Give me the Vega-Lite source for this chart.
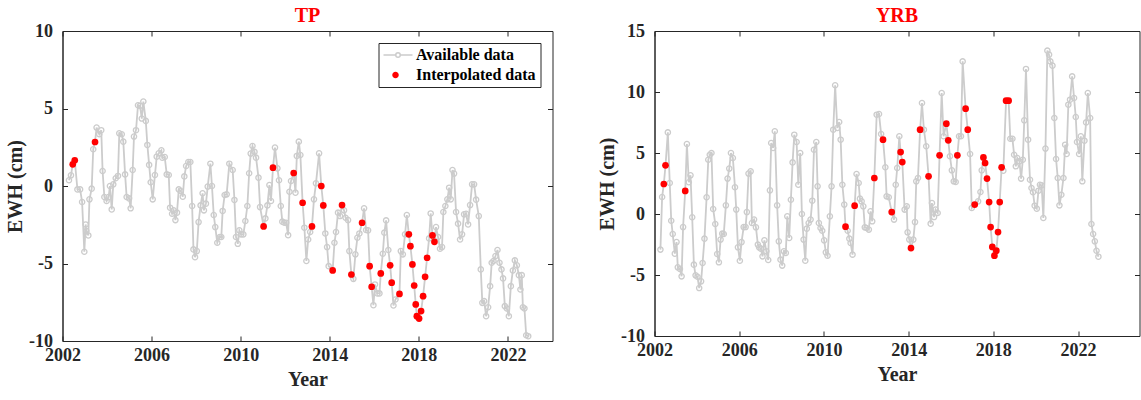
{
"$schema": "https://vega.github.io/schema/vega-lite/v6.json",
"background": "white",
"padding": {"left": 4.5, "top": 5, "right": 0, "bottom": 0},
"bounds": "flush",
"spacing": 102,
"resolve": {"legend": {"shape": "independent", "fill": "independent", "stroke": "independent"}},
"config": {
  "font": "Liberation Serif",
  "view": {"stroke": "#262626", "strokeWidth": 1},
  "axis": {"grid": false, "domainColor": "#262626", "tickColor": "#262626", "labelColor": "#262626", "titleColor": "#262626",
    "labelFont": "Liberation Serif", "titleFont": "Liberation Serif", "labelFontSize": 18, "labelFontWeight": "bold",
    "titleFontSize": 20, "titleFontWeight": "bold", "tickSize": -5, "domainWidth": 1, "tickWidth": 1, "labelOverlap": false},
  "legend": {"title": null, "orient": "top-right", "offset": 12, "strokeColor": "#262626", "fillColor": "white", "padding": 4,
    "labelFont": "Liberation Serif", "labelFontSize": 16, "labelFontWeight": "bold", "labelColor": "#000000",
    "symbolSize": 100, "labelOffset": 17.5, "rowPadding": 4, "symbolStrokeWidth": 1.5, "symbolOpacity": 1},
  "title": {"font": "Liberation Serif", "fontSize": 20, "fontWeight": "bold", "color": "#ff0000", "anchor": "middle", "offset": -4}
},
"datasets": {
"tp": [
{"year":2002.29,"ewh":0.37,"type":"Available data"},
{"year":2002.38,"ewh":0.69,"type":"Available data"},
{"year":2002.46,"ewh":1.40,"type":"Interpolated data"},
{"year":2002.55,"ewh":1.66,"type":"Interpolated data"},
{"year":2002.67,"ewh":-0.22,"type":"Available data"},
{"year":2002.79,"ewh":-0.22,"type":"Available data"},
{"year":2002.88,"ewh":-1.03,"type":"Available data"},
{"year":2002.98,"ewh":-4.24,"type":"Available data"},
{"year":2003.04,"ewh":-2.48,"type":"Available data"},
{"year":2003.07,"ewh":-2.91,"type":"Available data"},
{"year":2003.16,"ewh":-3.19,"type":"Available data"},
{"year":2003.21,"ewh":-0.86,"type":"Available data"},
{"year":2003.31,"ewh":-0.17,"type":"Available data"},
{"year":2003.38,"ewh":2.37,"type":"Available data"},
{"year":2003.46,"ewh":2.84,"type":"Interpolated data"},
{"year":2003.53,"ewh":3.77,"type":"Available data"},
{"year":2003.65,"ewh":3.34,"type":"Available data"},
{"year":2003.74,"ewh":3.60,"type":"Available data"},
{"year":2003.80,"ewh":0.97,"type":"Available data"},
{"year":2003.88,"ewh":-0.71,"type":"Available data"},
{"year":2003.98,"ewh":-0.97,"type":"Available data"},
{"year":2004.07,"ewh":-0.71,"type":"Available data"},
{"year":2004.13,"ewh":0.00,"type":"Available data"},
{"year":2004.21,"ewh":-1.51,"type":"Available data"},
{"year":2004.28,"ewh":0.11,"type":"Available data"},
{"year":2004.39,"ewh":0.50,"type":"Available data"},
{"year":2004.49,"ewh":0.65,"type":"Available data"},
{"year":2004.55,"ewh":3.40,"type":"Available data"},
{"year":2004.66,"ewh":3.34,"type":"Available data"},
{"year":2004.73,"ewh":2.86,"type":"Available data"},
{"year":2004.81,"ewh":0.75,"type":"Available data"},
{"year":2004.88,"ewh":-0.71,"type":"Available data"},
{"year":2004.99,"ewh":-0.80,"type":"Available data"},
{"year":2005.06,"ewh":-1.44,"type":"Available data"},
{"year":2005.15,"ewh":1.03,"type":"Available data"},
{"year":2005.21,"ewh":3.19,"type":"Available data"},
{"year":2005.30,"ewh":3.60,"type":"Available data"},
{"year":2005.39,"ewh":5.21,"type":"Available data"},
{"year":2005.48,"ewh":5.17,"type":"Available data"},
{"year":2005.56,"ewh":4.35,"type":"Available data"},
{"year":2005.63,"ewh":5.45,"type":"Available data"},
{"year":2005.74,"ewh":4.20,"type":"Available data"},
{"year":2005.81,"ewh":2.65,"type":"Available data"},
{"year":2005.89,"ewh":1.36,"type":"Available data"},
{"year":2005.96,"ewh":0.24,"type":"Available data"},
{"year":2006.05,"ewh":-0.86,"type":"Available data"},
{"year":2006.15,"ewh":0.71,"type":"Available data"},
{"year":2006.23,"ewh":1.89,"type":"Available data"},
{"year":2006.32,"ewh":2.11,"type":"Available data"},
{"year":2006.44,"ewh":2.30,"type":"Available data"},
{"year":2006.48,"ewh":1.83,"type":"Available data"},
{"year":2006.59,"ewh":1.87,"type":"Available data"},
{"year":2006.68,"ewh":0.75,"type":"Available data"},
{"year":2006.77,"ewh":0.71,"type":"Available data"},
{"year":2006.83,"ewh":-1.40,"type":"Available data"},
{"year":2006.92,"ewh":-1.79,"type":"Available data"},
{"year":2006.99,"ewh":-1.57,"type":"Available data"},
{"year":2007.07,"ewh":-2.20,"type":"Available data"},
{"year":2007.14,"ewh":-1.72,"type":"Available data"},
{"year":2007.22,"ewh":-0.22,"type":"Available data"},
{"year":2007.31,"ewh":-0.32,"type":"Available data"},
{"year":2007.40,"ewh":-0.69,"type":"Available data"},
{"year":2007.47,"ewh":0.62,"type":"Available data"},
{"year":2007.55,"ewh":1.29,"type":"Available data"},
{"year":2007.65,"ewh":1.55,"type":"Available data"},
{"year":2007.74,"ewh":1.55,"type":"Available data"},
{"year":2007.82,"ewh":-1.29,"type":"Available data"},
{"year":2007.88,"ewh":-4.09,"type":"Available data"},
{"year":2007.95,"ewh":-4.59,"type":"Available data"},
{"year":2008.03,"ewh":-4.20,"type":"Available data"},
{"year":2008.11,"ewh":-2.33,"type":"Available data"},
{"year":2008.20,"ewh":-1.25,"type":"Available data"},
{"year":2008.29,"ewh":-0.47,"type":"Available data"},
{"year":2008.35,"ewh":-1.57,"type":"Available data"},
{"year":2008.44,"ewh":-1.14,"type":"Available data"},
{"year":2008.52,"ewh":-0.04,"type":"Available data"},
{"year":2008.64,"ewh":1.44,"type":"Available data"},
{"year":2008.71,"ewh":0.00,"type":"Available data"},
{"year":2008.79,"ewh":-1.87,"type":"Available data"},
{"year":2008.86,"ewh":-2.65,"type":"Available data"},
{"year":2008.95,"ewh":-3.66,"type":"Available data"},
{"year":2009.06,"ewh":-3.29,"type":"Available data"},
{"year":2009.13,"ewh":-3.29,"type":"Available data"},
{"year":2009.19,"ewh":-1.61,"type":"Available data"},
{"year":2009.28,"ewh":-0.58,"type":"Available data"},
{"year":2009.37,"ewh":-0.54,"type":"Available data"},
{"year":2009.49,"ewh":1.44,"type":"Available data"},
{"year":2009.64,"ewh":1.03,"type":"Available data"},
{"year":2009.72,"ewh":-0.90,"type":"Available data"},
{"year":2009.79,"ewh":-3.29,"type":"Available data"},
{"year":2009.87,"ewh":-3.73,"type":"Available data"},
{"year":2009.94,"ewh":-2.86,"type":"Available data"},
{"year":2010.02,"ewh":-3.12,"type":"Available data"},
{"year":2010.12,"ewh":-3.12,"type":"Available data"},
{"year":2010.21,"ewh":-2.26,"type":"Available data"},
{"year":2010.30,"ewh":-1.29,"type":"Available data"},
{"year":2010.38,"ewh":0.82,"type":"Available data"},
{"year":2010.45,"ewh":2.09,"type":"Available data"},
{"year":2010.53,"ewh":2.58,"type":"Available data"},
{"year":2010.62,"ewh":2.20,"type":"Available data"},
{"year":2010.69,"ewh":1.83,"type":"Available data"},
{"year":2010.80,"ewh":0.54,"type":"Available data"},
{"year":2010.87,"ewh":-1.36,"type":"Available data"},
{"year":2011.03,"ewh":-2.61,"type":"Interpolated data"},
{"year":2011.11,"ewh":-2.09,"type":"Available data"},
{"year":2011.20,"ewh":-1.25,"type":"Available data"},
{"year":2011.29,"ewh":0.06,"type":"Available data"},
{"year":2011.36,"ewh":-0.97,"type":"Available data"},
{"year":2011.45,"ewh":1.18,"type":"Interpolated data"},
{"year":2011.54,"ewh":2.48,"type":"Available data"},
{"year":2011.65,"ewh":1.14,"type":"Available data"},
{"year":2011.72,"ewh":0.37,"type":"Available data"},
{"year":2011.80,"ewh":-1.29,"type":"Available data"},
{"year":2011.87,"ewh":-2.30,"type":"Available data"},
{"year":2011.96,"ewh":-2.37,"type":"Available data"},
{"year":2012.04,"ewh":-2.37,"type":"Available data"},
{"year":2012.13,"ewh":-3.17,"type":"Available data"},
{"year":2012.19,"ewh":-0.37,"type":"Available data"},
{"year":2012.26,"ewh":0.32,"type":"Available data"},
{"year":2012.38,"ewh":0.84,"type":"Interpolated data"},
{"year":2012.46,"ewh":-0.43,"type":"Available data"},
{"year":2012.52,"ewh":1.94,"type":"Available data"},
{"year":2012.61,"ewh":2.86,"type":"Available data"},
{"year":2012.68,"ewh":2.00,"type":"Available data"},
{"year":2012.78,"ewh":-1.08,"type":"Interpolated data"},
{"year":2012.86,"ewh":-2.69,"type":"Available data"},
{"year":2012.95,"ewh":-4.84,"type":"Available data"},
{"year":2013.03,"ewh":-3.45,"type":"Available data"},
{"year":2013.12,"ewh":-2.97,"type":"Available data"},
{"year":2013.20,"ewh":-2.61,"type":"Interpolated data"},
{"year":2013.29,"ewh":-0.86,"type":"Available data"},
{"year":2013.38,"ewh":0.17,"type":"Available data"},
{"year":2013.52,"ewh":2.11,"type":"Available data"},
{"year":2013.62,"ewh":0.00,"type":"Interpolated data"},
{"year":2013.71,"ewh":-1.25,"type":"Interpolated data"},
{"year":2013.80,"ewh":-3.06,"type":"Available data"},
{"year":2013.88,"ewh":-3.94,"type":"Available data"},
{"year":2013.95,"ewh":-5.17,"type":"Available data"},
{"year":2014.13,"ewh":-5.45,"type":"Interpolated data"},
{"year":2014.21,"ewh":-3.66,"type":"Available data"},
{"year":2014.28,"ewh":-2.97,"type":"Available data"},
{"year":2014.37,"ewh":-1.72,"type":"Available data"},
{"year":2014.46,"ewh":-1.94,"type":"Available data"},
{"year":2014.55,"ewh":-1.23,"type":"Interpolated data"},
{"year":2014.64,"ewh":-1.57,"type":"Available data"},
{"year":2014.71,"ewh":-2.05,"type":"Available data"},
{"year":2014.82,"ewh":-2.20,"type":"Available data"},
{"year":2014.88,"ewh":-4.20,"type":"Available data"},
{"year":2014.97,"ewh":-5.71,"type":"Interpolated data"},
{"year":2015.06,"ewh":-5.99,"type":"Available data"},
{"year":2015.15,"ewh":-4.41,"type":"Available data"},
{"year":2015.24,"ewh":-3.34,"type":"Available data"},
{"year":2015.33,"ewh":-3.06,"type":"Available data"},
{"year":2015.45,"ewh":-2.37,"type":"Interpolated data"},
{"year":2015.54,"ewh":-1.44,"type":"Available data"},
{"year":2015.63,"ewh":-2.84,"type":"Available data"},
{"year":2015.72,"ewh":-2.86,"type":"Available data"},
{"year":2015.79,"ewh":-5.17,"type":"Interpolated data"},
{"year":2015.88,"ewh":-6.50,"type":"Interpolated data"},
{"year":2015.96,"ewh":-7.69,"type":"Available data"},
{"year":2016.03,"ewh":-6.35,"type":"Available data"},
{"year":2016.14,"ewh":-6.93,"type":"Available data"},
{"year":2016.23,"ewh":-6.93,"type":"Available data"},
{"year":2016.29,"ewh":-5.64,"type":"Interpolated data"},
{"year":2016.38,"ewh":-4.37,"type":"Available data"},
{"year":2016.45,"ewh":-3.01,"type":"Available data"},
{"year":2016.53,"ewh":-2.22,"type":"Available data"},
{"year":2016.63,"ewh":-4.13,"type":"Available data"},
{"year":2016.71,"ewh":-5.12,"type":"Interpolated data"},
{"year":2016.78,"ewh":-6.24,"type":"Interpolated data"},
{"year":2016.86,"ewh":-7.71,"type":"Available data"},
{"year":2016.95,"ewh":-7.32,"type":"Available data"},
{"year":2017.13,"ewh":-6.96,"type":"Interpolated data"},
{"year":2017.19,"ewh":-4.20,"type":"Available data"},
{"year":2017.28,"ewh":-4.41,"type":"Available data"},
{"year":2017.38,"ewh":-3.12,"type":"Available data"},
{"year":2017.46,"ewh":-1.87,"type":"Available data"},
{"year":2017.55,"ewh":-3.12,"type":"Interpolated data"},
{"year":2017.62,"ewh":-3.88,"type":"Interpolated data"},
{"year":2017.71,"ewh":-5.06,"type":"Interpolated data"},
{"year":2017.79,"ewh":-6.42,"type":"Interpolated data"},
{"year":2017.86,"ewh":-7.64,"type":"Interpolated data"},
{"year":2017.91,"ewh":-8.40,"type":"Interpolated data"},
{"year":2018.01,"ewh":-8.55,"type":"Interpolated data"},
{"year":2018.10,"ewh":-8.07,"type":"Interpolated data"},
{"year":2018.19,"ewh":-7.11,"type":"Interpolated data"},
{"year":2018.28,"ewh":-5.86,"type":"Interpolated data"},
{"year":2018.37,"ewh":-4.63,"type":"Interpolated data"},
{"year":2018.46,"ewh":-3.38,"type":"Available data"},
{"year":2018.53,"ewh":-1.77,"type":"Available data"},
{"year":2018.61,"ewh":-3.19,"type":"Interpolated data"},
{"year":2018.70,"ewh":-3.60,"type":"Interpolated data"},
{"year":2018.77,"ewh":-2.65,"type":"Available data"},
{"year":2018.86,"ewh":-3.29,"type":"Available data"},
{"year":2018.95,"ewh":-4.05,"type":"Available data"},
{"year":2019.04,"ewh":-3.94,"type":"Available data"},
{"year":2019.10,"ewh":-1.68,"type":"Available data"},
{"year":2019.19,"ewh":-1.29,"type":"Available data"},
{"year":2019.28,"ewh":-0.86,"type":"Available data"},
{"year":2019.36,"ewh":-0.11,"type":"Available data"},
{"year":2019.43,"ewh":-0.86,"type":"Available data"},
{"year":2019.51,"ewh":1.03,"type":"Available data"},
{"year":2019.58,"ewh":0.80,"type":"Available data"},
{"year":2019.67,"ewh":-1.68,"type":"Available data"},
{"year":2019.76,"ewh":-2.43,"type":"Available data"},
{"year":2019.85,"ewh":-3.45,"type":"Available data"},
{"year":2019.94,"ewh":-3.12,"type":"Available data"},
{"year":2020.03,"ewh":-1.83,"type":"Available data"},
{"year":2020.12,"ewh":-1.79,"type":"Available data"},
{"year":2020.21,"ewh":-2.48,"type":"Available data"},
{"year":2020.30,"ewh":-1.23,"type":"Available data"},
{"year":2020.39,"ewh":0.11,"type":"Available data"},
{"year":2020.48,"ewh":0.11,"type":"Available data"},
{"year":2020.57,"ewh":-0.88,"type":"Available data"},
{"year":2020.69,"ewh":-1.94,"type":"Available data"},
{"year":2020.78,"ewh":-5.38,"type":"Available data"},
{"year":2020.85,"ewh":-7.54,"type":"Available data"},
{"year":2020.93,"ewh":-7.43,"type":"Available data"},
{"year":2021.02,"ewh":-8.40,"type":"Available data"},
{"year":2021.11,"ewh":-7.82,"type":"Available data"},
{"year":2021.20,"ewh":-6.46,"type":"Available data"},
{"year":2021.27,"ewh":-4.95,"type":"Available data"},
{"year":2021.35,"ewh":-4.84,"type":"Available data"},
{"year":2021.44,"ewh":-4.52,"type":"Available data"},
{"year":2021.53,"ewh":-4.13,"type":"Available data"},
{"year":2021.62,"ewh":-4.95,"type":"Available data"},
{"year":2021.71,"ewh":-5.38,"type":"Available data"},
{"year":2021.78,"ewh":-5.96,"type":"Available data"},
{"year":2021.86,"ewh":-7.75,"type":"Available data"},
{"year":2021.95,"ewh":-7.90,"type":"Available data"},
{"year":2022.04,"ewh":-8.40,"type":"Available data"},
{"year":2022.13,"ewh":-6.46,"type":"Available data"},
{"year":2022.22,"ewh":-5.45,"type":"Available data"},
{"year":2022.31,"ewh":-4.80,"type":"Available data"},
{"year":2022.40,"ewh":-5.12,"type":"Available data"},
{"year":2022.49,"ewh":-5.75,"type":"Available data"},
{"year":2022.56,"ewh":-6.68,"type":"Available data"},
{"year":2022.62,"ewh":-5.75,"type":"Available data"},
{"year":2022.67,"ewh":-7.82,"type":"Available data"},
{"year":2022.74,"ewh":-7.90,"type":"Available data"},
{"year":2022.82,"ewh":-9.63,"type":"Available data"},
{"year":2022.91,"ewh":-9.69,"type":"Available data"}
],
"yrb": [
{"year":2002.28,"ewh":-2.92,"type":"Available data"},
{"year":2002.36,"ewh":1.39,"type":"Available data"},
{"year":2002.44,"ewh":2.46,"type":"Interpolated data"},
{"year":2002.52,"ewh":3.99,"type":"Interpolated data"},
{"year":2002.63,"ewh":6.69,"type":"Available data"},
{"year":2002.72,"ewh":2.54,"type":"Available data"},
{"year":2002.79,"ewh":-0.55,"type":"Available data"},
{"year":2002.86,"ewh":-1.64,"type":"Available data"},
{"year":2002.96,"ewh":-3.25,"type":"Available data"},
{"year":2003.04,"ewh":-2.30,"type":"Available data"},
{"year":2003.10,"ewh":-4.37,"type":"Available data"},
{"year":2003.20,"ewh":-4.51,"type":"Available data"},
{"year":2003.28,"ewh":-5.11,"type":"Available data"},
{"year":2003.35,"ewh":-1.07,"type":"Available data"},
{"year":2003.45,"ewh":1.89,"type":"Interpolated data"},
{"year":2003.53,"ewh":5.74,"type":"Available data"},
{"year":2003.62,"ewh":2.60,"type":"Available data"},
{"year":2003.70,"ewh":3.17,"type":"Available data"},
{"year":2003.78,"ewh":-0.27,"type":"Available data"},
{"year":2003.86,"ewh":-4.15,"type":"Available data"},
{"year":2003.94,"ewh":-5.03,"type":"Available data"},
{"year":2004.03,"ewh":-5.14,"type":"Available data"},
{"year":2004.11,"ewh":-6.07,"type":"Available data"},
{"year":2004.20,"ewh":-5.52,"type":"Available data"},
{"year":2004.27,"ewh":-4.02,"type":"Available data"},
{"year":2004.36,"ewh":-2.02,"type":"Available data"},
{"year":2004.46,"ewh":1.37,"type":"Available data"},
{"year":2004.54,"ewh":4.45,"type":"Available data"},
{"year":2004.61,"ewh":4.86,"type":"Available data"},
{"year":2004.69,"ewh":5.00,"type":"Available data"},
{"year":2004.77,"ewh":0.41,"type":"Available data"},
{"year":2004.87,"ewh":-0.82,"type":"Available data"},
{"year":2004.96,"ewh":-3.28,"type":"Available data"},
{"year":2005.04,"ewh":-3.96,"type":"Available data"},
{"year":2005.12,"ewh":-2.10,"type":"Available data"},
{"year":2005.20,"ewh":-1.61,"type":"Available data"},
{"year":2005.27,"ewh":-1.64,"type":"Available data"},
{"year":2005.37,"ewh":0.71,"type":"Available data"},
{"year":2005.45,"ewh":2.90,"type":"Available data"},
{"year":2005.53,"ewh":3.72,"type":"Available data"},
{"year":2005.61,"ewh":5.00,"type":"Available data"},
{"year":2005.70,"ewh":4.59,"type":"Available data"},
{"year":2005.80,"ewh":2.19,"type":"Available data"},
{"year":2005.86,"ewh":0.36,"type":"Available data"},
{"year":2005.94,"ewh":-2.73,"type":"Available data"},
{"year":2006.03,"ewh":-3.83,"type":"Available data"},
{"year":2006.11,"ewh":-2.30,"type":"Available data"},
{"year":2006.21,"ewh":-1.07,"type":"Available data"},
{"year":2006.30,"ewh":-1.07,"type":"Available data"},
{"year":2006.36,"ewh":0.16,"type":"Available data"},
{"year":2006.44,"ewh":3.31,"type":"Available data"},
{"year":2006.54,"ewh":3.50,"type":"Available data"},
{"year":2006.60,"ewh":-0.74,"type":"Available data"},
{"year":2006.70,"ewh":-0.46,"type":"Available data"},
{"year":2006.79,"ewh":-1.09,"type":"Available data"},
{"year":2006.88,"ewh":-2.51,"type":"Available data"},
{"year":2006.94,"ewh":-2.73,"type":"Available data"},
{"year":2007.02,"ewh":-2.84,"type":"Available data"},
{"year":2007.10,"ewh":-3.47,"type":"Available data"},
{"year":2007.19,"ewh":-2.16,"type":"Available data"},
{"year":2007.28,"ewh":-3.06,"type":"Available data"},
{"year":2007.37,"ewh":-3.77,"type":"Available data"},
{"year":2007.45,"ewh":1.94,"type":"Available data"},
{"year":2007.51,"ewh":5.82,"type":"Available data"},
{"year":2007.60,"ewh":5.41,"type":"Available data"},
{"year":2007.68,"ewh":6.78,"type":"Available data"},
{"year":2007.79,"ewh":0.71,"type":"Available data"},
{"year":2007.87,"ewh":-2.24,"type":"Available data"},
{"year":2007.95,"ewh":-3.74,"type":"Available data"},
{"year":2008.03,"ewh":-4.23,"type":"Available data"},
{"year":2008.11,"ewh":-3.06,"type":"Available data"},
{"year":2008.20,"ewh":-3.20,"type":"Available data"},
{"year":2008.27,"ewh":-0.19,"type":"Available data"},
{"year":2008.36,"ewh":-1.97,"type":"Available data"},
{"year":2008.44,"ewh":1.17,"type":"Available data"},
{"year":2008.52,"ewh":4.23,"type":"Available data"},
{"year":2008.60,"ewh":6.50,"type":"Available data"},
{"year":2008.71,"ewh":5.90,"type":"Available data"},
{"year":2008.79,"ewh":2.40,"type":"Available data"},
{"year":2008.88,"ewh":5.00,"type":"Available data"},
{"year":2008.96,"ewh":0.00,"type":"Available data"},
{"year":2009.04,"ewh":-2.10,"type":"Available data"},
{"year":2009.12,"ewh":-3.83,"type":"Available data"},
{"year":2009.19,"ewh":-1.20,"type":"Available data"},
{"year":2009.28,"ewh":-0.74,"type":"Available data"},
{"year":2009.37,"ewh":-0.46,"type":"Available data"},
{"year":2009.45,"ewh":1.09,"type":"Available data"},
{"year":2009.53,"ewh":5.27,"type":"Available data"},
{"year":2009.64,"ewh":5.90,"type":"Available data"},
{"year":2009.70,"ewh":2.27,"type":"Available data"},
{"year":2009.76,"ewh":-0.74,"type":"Available data"},
{"year":2009.84,"ewh":-1.15,"type":"Available data"},
{"year":2009.92,"ewh":-1.37,"type":"Available data"},
{"year":2010.01,"ewh":-2.16,"type":"Available data"},
{"year":2010.09,"ewh":-3.14,"type":"Available data"},
{"year":2010.17,"ewh":-3.42,"type":"Available data"},
{"year":2010.28,"ewh":-0.19,"type":"Available data"},
{"year":2010.36,"ewh":2.27,"type":"Available data"},
{"year":2010.44,"ewh":6.91,"type":"Available data"},
{"year":2010.53,"ewh":10.55,"type":"Available data"},
{"year":2010.63,"ewh":7.05,"type":"Available data"},
{"year":2010.72,"ewh":7.54,"type":"Available data"},
{"year":2010.79,"ewh":6.09,"type":"Available data"},
{"year":2010.87,"ewh":2.40,"type":"Available data"},
{"year":2010.96,"ewh":0.77,"type":"Available data"},
{"year":2011.02,"ewh":-1.04,"type":"Interpolated data"},
{"year":2011.12,"ewh":-1.37,"type":"Available data"},
{"year":2011.20,"ewh":-2.02,"type":"Available data"},
{"year":2011.26,"ewh":-2.38,"type":"Available data"},
{"year":2011.35,"ewh":-3.33,"type":"Available data"},
{"year":2011.45,"ewh":0.68,"type":"Interpolated data"},
{"year":2011.54,"ewh":3.28,"type":"Available data"},
{"year":2011.64,"ewh":2.54,"type":"Available data"},
{"year":2011.70,"ewh":1.26,"type":"Available data"},
{"year":2011.78,"ewh":1.04,"type":"Available data"},
{"year":2011.86,"ewh":0.63,"type":"Available data"},
{"year":2011.93,"ewh":-1.09,"type":"Available data"},
{"year":2012.01,"ewh":-1.15,"type":"Available data"},
{"year":2012.12,"ewh":-1.28,"type":"Available data"},
{"year":2012.20,"ewh":0.22,"type":"Available data"},
{"year":2012.28,"ewh":-0.60,"type":"Available data"},
{"year":2012.38,"ewh":2.95,"type":"Interpolated data"},
{"year":2012.49,"ewh":8.14,"type":"Available data"},
{"year":2012.60,"ewh":8.20,"type":"Available data"},
{"year":2012.70,"ewh":6.56,"type":"Available data"},
{"year":2012.79,"ewh":6.09,"type":"Interpolated data"},
{"year":2012.90,"ewh":3.83,"type":"Available data"},
{"year":2012.96,"ewh":1.45,"type":"Available data"},
{"year":2013.06,"ewh":1.37,"type":"Available data"},
{"year":2013.20,"ewh":0.16,"type":"Interpolated data"},
{"year":2013.31,"ewh":-0.46,"type":"Available data"},
{"year":2013.39,"ewh":2.40,"type":"Available data"},
{"year":2013.46,"ewh":3.77,"type":"Available data"},
{"year":2013.56,"ewh":6.37,"type":"Available data"},
{"year":2013.62,"ewh":5.08,"type":"Interpolated data"},
{"year":2013.70,"ewh":4.26,"type":"Interpolated data"},
{"year":2013.81,"ewh":0.36,"type":"Available data"},
{"year":2013.91,"ewh":0.63,"type":"Available data"},
{"year":2013.95,"ewh":-1.50,"type":"Available data"},
{"year":2014.03,"ewh":-2.10,"type":"Available data"},
{"year":2014.11,"ewh":-2.79,"type":"Interpolated data"},
{"year":2014.22,"ewh":-2.10,"type":"Available data"},
{"year":2014.30,"ewh":-0.66,"type":"Available data"},
{"year":2014.36,"ewh":2.68,"type":"Available data"},
{"year":2014.44,"ewh":2.95,"type":"Available data"},
{"year":2014.54,"ewh":6.91,"type":"Interpolated data"},
{"year":2014.63,"ewh":9.10,"type":"Available data"},
{"year":2014.72,"ewh":6.91,"type":"Available data"},
{"year":2014.83,"ewh":5.55,"type":"Available data"},
{"year":2014.94,"ewh":3.09,"type":"Interpolated data"},
{"year":2015.04,"ewh":-0.79,"type":"Available data"},
{"year":2015.10,"ewh":0.90,"type":"Available data"},
{"year":2015.20,"ewh":-0.25,"type":"Available data"},
{"year":2015.27,"ewh":0.36,"type":"Available data"},
{"year":2015.37,"ewh":0.08,"type":"Available data"},
{"year":2015.46,"ewh":4.81,"type":"Interpolated data"},
{"year":2015.56,"ewh":9.92,"type":"Available data"},
{"year":2015.65,"ewh":6.37,"type":"Available data"},
{"year":2015.78,"ewh":7.40,"type":"Interpolated data"},
{"year":2015.87,"ewh":6.04,"type":"Interpolated data"},
{"year":2015.95,"ewh":4.73,"type":"Available data"},
{"year":2016.04,"ewh":3.58,"type":"Available data"},
{"year":2016.13,"ewh":2.68,"type":"Available data"},
{"year":2016.22,"ewh":2.62,"type":"Available data"},
{"year":2016.30,"ewh":4.81,"type":"Interpolated data"},
{"year":2016.38,"ewh":6.37,"type":"Available data"},
{"year":2016.47,"ewh":6.37,"type":"Available data"},
{"year":2016.55,"ewh":12.51,"type":"Available data"},
{"year":2016.69,"ewh":8.63,"type":"Interpolated data"},
{"year":2016.79,"ewh":6.91,"type":"Interpolated data"},
{"year":2016.90,"ewh":4.92,"type":"Available data"},
{"year":2016.98,"ewh":0.49,"type":"Available data"},
{"year":2017.12,"ewh":0.77,"type":"Interpolated data"},
{"year":2017.28,"ewh":1.04,"type":"Available data"},
{"year":2017.39,"ewh":1.80,"type":"Available data"},
{"year":2017.45,"ewh":3.58,"type":"Available data"},
{"year":2017.53,"ewh":4.64,"type":"Interpolated data"},
{"year":2017.61,"ewh":4.18,"type":"Interpolated data"},
{"year":2017.70,"ewh":2.90,"type":"Interpolated data"},
{"year":2017.80,"ewh":0.98,"type":"Interpolated data"},
{"year":2017.87,"ewh":-1.07,"type":"Interpolated data"},
{"year":2017.95,"ewh":-2.70,"type":"Interpolated data"},
{"year":2018.05,"ewh":-3.42,"type":"Interpolated data"},
{"year":2018.14,"ewh":-3.01,"type":"Interpolated data"},
{"year":2018.22,"ewh":-1.48,"type":"Interpolated data"},
{"year":2018.30,"ewh":0.98,"type":"Interpolated data"},
{"year":2018.39,"ewh":3.83,"type":"Interpolated data"},
{"year":2018.47,"ewh":3.55,"type":"Available data"},
{"year":2018.60,"ewh":9.29,"type":"Interpolated data"},
{"year":2018.72,"ewh":9.29,"type":"Interpolated data"},
{"year":2018.80,"ewh":6.17,"type":"Available data"},
{"year":2018.90,"ewh":6.17,"type":"Available data"},
{"year":2018.98,"ewh":4.86,"type":"Available data"},
{"year":2019.06,"ewh":3.91,"type":"Available data"},
{"year":2019.13,"ewh":4.59,"type":"Available data"},
{"year":2019.23,"ewh":4.32,"type":"Available data"},
{"year":2019.31,"ewh":2.90,"type":"Available data"},
{"year":2019.39,"ewh":4.45,"type":"Available data"},
{"year":2019.46,"ewh":7.68,"type":"Available data"},
{"year":2019.54,"ewh":11.89,"type":"Available data"},
{"year":2019.64,"ewh":6.09,"type":"Available data"},
{"year":2019.73,"ewh":2.81,"type":"Available data"},
{"year":2019.80,"ewh":2.13,"type":"Available data"},
{"year":2019.87,"ewh":1.78,"type":"Available data"},
{"year":2019.95,"ewh":0.68,"type":"Available data"},
{"year":2020.05,"ewh":0.44,"type":"Available data"},
{"year":2020.13,"ewh":1.91,"type":"Available data"},
{"year":2020.20,"ewh":2.40,"type":"Available data"},
{"year":2020.28,"ewh":2.35,"type":"Available data"},
{"year":2020.36,"ewh":-0.33,"type":"Available data"},
{"year":2020.46,"ewh":5.36,"type":"Available data"},
{"year":2020.55,"ewh":13.39,"type":"Available data"},
{"year":2020.63,"ewh":13.06,"type":"Available data"},
{"year":2020.69,"ewh":12.51,"type":"Available data"},
{"year":2020.79,"ewh":12.16,"type":"Available data"},
{"year":2020.88,"ewh":7.87,"type":"Available data"},
{"year":2020.96,"ewh":4.51,"type":"Available data"},
{"year":2021.04,"ewh":2.95,"type":"Available data"},
{"year":2021.12,"ewh":0.71,"type":"Available data"},
{"year":2021.21,"ewh":1.58,"type":"Available data"},
{"year":2021.31,"ewh":2.95,"type":"Available data"},
{"year":2021.39,"ewh":5.68,"type":"Available data"},
{"year":2021.46,"ewh":4.92,"type":"Available data"},
{"year":2021.54,"ewh":8.96,"type":"Available data"},
{"year":2021.62,"ewh":9.37,"type":"Available data"},
{"year":2021.72,"ewh":11.28,"type":"Available data"},
{"year":2021.81,"ewh":9.51,"type":"Available data"},
{"year":2021.89,"ewh":7.95,"type":"Available data"},
{"year":2021.95,"ewh":5.90,"type":"Available data"},
{"year":2022.05,"ewh":4.92,"type":"Available data"},
{"year":2022.13,"ewh":6.37,"type":"Available data"},
{"year":2022.20,"ewh":2.68,"type":"Available data"},
{"year":2022.30,"ewh":6.01,"type":"Available data"},
{"year":2022.38,"ewh":7.51,"type":"Available data"},
{"year":2022.46,"ewh":9.92,"type":"Available data"},
{"year":2022.57,"ewh":7.87,"type":"Available data"},
{"year":2022.63,"ewh":-0.82,"type":"Available data"},
{"year":2022.71,"ewh":-1.64,"type":"Available data"},
{"year":2022.79,"ewh":-2.24,"type":"Available data"},
{"year":2022.87,"ewh":-3.01,"type":"Available data"},
{"year":2022.96,"ewh":-3.50,"type":"Available data"}
]
},
"hconcat": [
{
  "title": "TP",
  "width": 490, "height": 310,
  "data": {"name": "tp"},
  "resolve": {"axis": {"x": "independent", "y": "independent"}},
  "layer": [
    {"mark": {"type": "line", "color": "#cccccc", "strokeWidth": 1.8},
     "encoding": {
       "x": {"field": "year", "type": "quantitative", "scale": {"domain": [2002, 2024], "nice": false, "zero": false},
         "axis": {"values": [2002, 2006, 2010, 2014, 2018, 2022], "labelExpr": "'' + datum.value", "title": "Year", "labelPadding": 10, "titlePadding": 5, "labelFlush": false}},
       "y": {"field": "ewh", "type": "quantitative", "scale": {"domain": [-10, 10], "nice": false, "zero": false},
         "axis": {"values": [-10, -5, 0, 5, 10], "labelExpr": "'' + datum.value", "title": "EWH (cm)", "labelPadding": 15, "titlePadding": 3}}
     }},
    {"transform": [{"filter": "datum.type === 'Available data'"}],
     "mark": {"type": "point", "shape": "circle", "filled": false, "color": "#cccccc", "size": 28, "strokeWidth": 1.3, "opacity": 1},
     "encoding": {
       "x": {"field": "year", "type": "quantitative", "axis": {"orient": "top", "values": [2002, 2006, 2010, 2014, 2018, 2022], "labels": false, "title": null, "domain": false}},
       "y": {"field": "ewh", "type": "quantitative", "axis": {"orient": "right", "values": [-10, -5, 0, 5, 10], "labels": false, "title": null, "domain": false}}
     }},
    {"transform": [{"filter": "datum.type === 'Interpolated data'"}],
     "mark": {"type": "point", "shape": "circle", "filled": true, "color": "#ff0000", "size": 45, "opacity": 1},
     "encoding": {
       "x": {"field": "year", "type": "quantitative", "axis": null},
       "y": {"field": "ewh", "type": "quantitative", "axis": null}
     }},
    {"transform": [{"filter": "false"}],
     "mark": {"type": "point", "opacity": 1, "strokeWidth": 1.5},
     "encoding": {
       "x": {"field": "year", "type": "quantitative", "axis": null},
       "y": {"field": "ewh", "type": "quantitative", "axis": null},
       "shape": {"field": "type", "type": "nominal",
         "scale": {"domain": ["Available data", "Interpolated data"], "range": ["M-1.4,0L1.05,0M1.95,0L4.4,0M1.95,0A0.45,0.45,0,1,1,1.05,0A0.45,0.45,0,1,1,1.95,0", "M1.65,0A0.65,0.65,0,1,1,0.35,0A0.65,0.65,0,1,1,1.65,0"]},
         "legend": {}},
       "fill": {"field": "type", "type": "nominal",
         "scale": {"domain": ["Available data", "Interpolated data"], "range": ["transparent", "#ff0000"]},
         "legend": {}},
       "stroke": {"field": "type", "type": "nominal",
         "scale": {"domain": ["Available data", "Interpolated data"], "range": ["#cccccc", "transparent"]},
         "legend": {}}
     }}
  ]
},
{
  "title": "YRB",
  "width": 485, "height": 305,
  "data": {"name": "yrb"},
  "resolve": {"axis": {"x": "independent", "y": "independent"}},
  "layer": [
    {"mark": {"type": "line", "color": "#cccccc", "strokeWidth": 1.8},
     "encoding": {
       "x": {"field": "year", "type": "quantitative", "scale": {"domain": [2002, 2024.9], "nice": false, "zero": false},
         "axis": {"values": [2002, 2006, 2010, 2014, 2018, 2022], "labelExpr": "'' + datum.value", "title": "Year", "labelPadding": 10, "titlePadding": 5, "labelFlush": false}},
       "y": {"field": "ewh", "type": "quantitative", "scale": {"domain": [-10, 15], "nice": false, "zero": false},
         "axis": {"values": [-10, -5, 0, 5, 10, 15], "labelExpr": "'' + datum.value", "title": "EWH (cm)", "labelPadding": 15, "titlePadding": 3}}
     }},
    {"transform": [{"filter": "datum.type === 'Available data'"}],
     "mark": {"type": "point", "shape": "circle", "filled": false, "color": "#cccccc", "size": 28, "strokeWidth": 1.3, "opacity": 1},
     "encoding": {
       "x": {"field": "year", "type": "quantitative", "axis": {"orient": "top", "values": [2002, 2006, 2010, 2014, 2018, 2022], "labels": false, "title": null, "domain": false}},
       "y": {"field": "ewh", "type": "quantitative", "axis": {"orient": "right", "values": [-10, -5, 0, 5, 10, 15], "labels": false, "title": null, "domain": false}}
     }},
    {"transform": [{"filter": "datum.type === 'Interpolated data'"}],
     "mark": {"type": "point", "shape": "circle", "filled": true, "color": "#ff0000", "size": 45, "opacity": 1},
     "encoding": {
       "x": {"field": "year", "type": "quantitative", "axis": null},
       "y": {"field": "ewh", "type": "quantitative", "axis": null}
     }}
  ]
}
]
}
